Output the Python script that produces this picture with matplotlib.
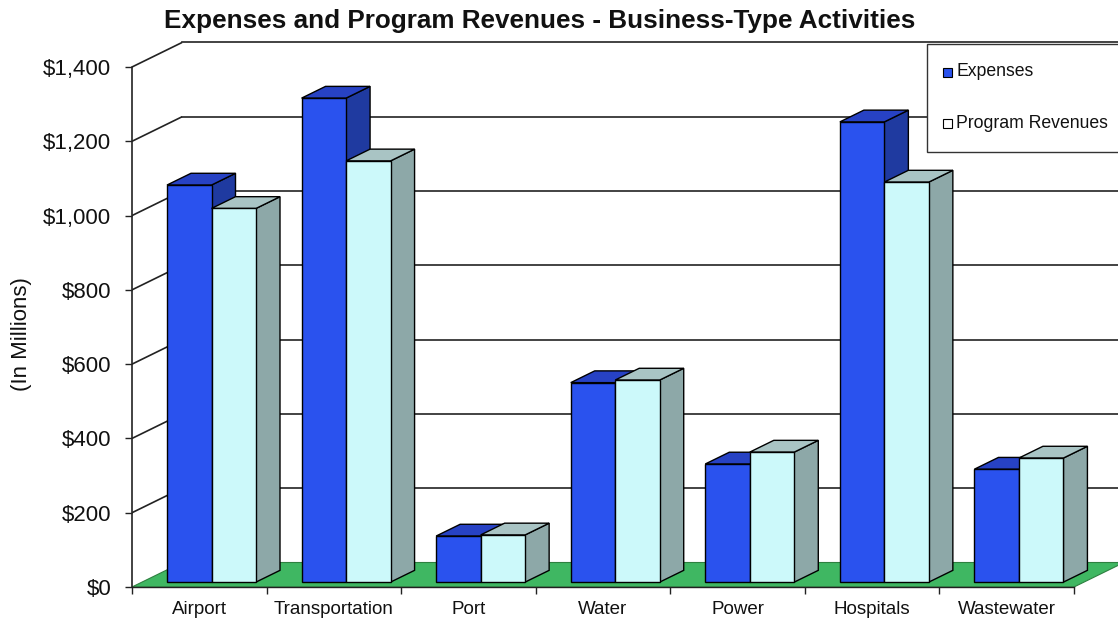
import numpy as np
import matplotlib
matplotlib.use('Agg')
import matplotlib.pyplot as plt
from matplotlib.patches import Polygon, Rectangle
from matplotlib.ticker import FuncFormatter

#================= data =================
categories = ['Airport', 'Transportation', 'Port', 'Water', 'Power', 'Hospitals', 'Wastewater']
expenses = [1069, 1303, 124, 537, 318, 1239, 304]
revenues = [1006, 1134, 127, 544, 350, 1077, 334]
series_names = ['Expenses', 'Program Revenues']
yticks = list(range(0, 1401, 200))

#================= style =================
plt.rcParams['font.family'] = ['Liberation Sans', 'DejaVu Sans']
W, H = 1118, 623
front_col = ['#2A52EE', '#CCF9FA']
top_col = ['#2742C4', '#A9C4C4']
side_col = ['#1F3AA0', '#8DA8A8']
floor_col = '#3FB762'
grid_col = '#222222'

fig = plt.figure(figsize=(W / 100, H / 100), dpi=100)
fig.patch.set_facecolor('white')

# axes: front plane x=0 at 132px, x=7 at 1074px ; y=0 at 587px, 1400 at 67px
x0_px, x7_px, y0_px, y1400_px = 132, 1074, 587, 67
cat_px = (x7_px - x0_px) / 7.0
val_px = (y0_px - y1400_px) / 1400.0
top_px = 40
ax = fig.add_axes([x0_px / W, 1 - y0_px / H, (W - x0_px) / W, (y0_px - top_px) / H])
ax.set_xlim(0, (W - x0_px) / cat_px)
ax.set_ylim(0, (y0_px - top_px) / val_px)

# depth of the box in data units
dx = 50 / cat_px
dy = 24.5 / val_px
d_front, d_back = 0.2, 0.68      # bar depth position
bar_off = 25 / cat_px            # front-plane offset of first bar in a category
bar_w = 44.5 / cat_px
xmax = ax.get_xlim()[1]

# floor
ax.add_patch(Polygon([(0, 0), (7, 0), (7 + dx, dy), (dx, dy)], closed=True,
                     facecolor=floor_col, edgecolor='#2E8040', lw=0.8, zorder=1))

# wall gridlines: diagonal on side wall, horizontal on back wall
for v in yticks:
    if v > 0:
        ax.plot([0, dx], [v, v + dy], color=grid_col, lw=1.2, zorder=2, solid_capstyle='butt')
        ax.plot([dx, xmax], [v + dy, v + dy], color=grid_col, lw=1.2, zorder=2)
ax.plot([0, 0], [0, 1400], color=grid_col, lw=1.2, zorder=2, clip_on=False)

# bars
def draw_bar(x_left, height, j):
    fx = x_left + d_front * dx
    fy = d_front * dy
    tdx = (d_back - d_front) * dx
    tdy = (d_back - d_front) * dy
    front = [(fx, fy), (fx + bar_w, fy), (fx + bar_w, fy + height), (fx, fy + height)]
    top = [(fx, fy + height), (fx + bar_w, fy + height),
           (fx + bar_w + tdx, fy + height + tdy), (fx + tdx, fy + height + tdy)]
    side = [(fx + bar_w, fy), (fx + bar_w + tdx, fy + tdy),
            (fx + bar_w + tdx, fy + height + tdy), (fx + bar_w, fy + height)]
    for pts, c in ((side, side_col[j]), (top, top_col[j]), (front, front_col[j])):
        ax.add_patch(Polygon(pts, closed=True, facecolor=c, edgecolor='black',
                             lw=1.0, joinstyle='miter', zorder=3))

for i in range(len(categories)):
    for j, vals in enumerate((expenses, revenues)):
        draw_bar(i + bar_off + j * bar_w, vals[i], j)

# axes styling
for s in ['top', 'right', 'left']:
    ax.spines[s].set_visible(False)
ax.spines['bottom'].set_bounds(0, 7)
ax.spines['bottom'].set_color(grid_col)
ax.spines['bottom'].set_linewidth(1.0)
ax.set_facecolor('none')

ax.set_yticks(yticks)
ax.yaxis.set_major_formatter(FuncFormatter(lambda v, p: '${:,.0f}'.format(v)))
ax.tick_params(axis='y', direction='out', length=5, width=1, color=grid_col,
               labelsize=16, pad=10, labelcolor='#111111')

ax.set_xticks(np.arange(0, 8))
ax.set_xticklabels([])
ax.set_xticks(np.arange(len(categories)) + 0.5, minor=True)
ax.set_xticklabels(categories, minor=True)
ax.tick_params(axis='x', which='major', direction='out', length=5, width=1, color=grid_col)
ax.tick_params(axis='x', which='minor', length=0, pad=10, labelsize=13.5, labelcolor='#111111')

# titles
fig.text(540 / W, 1 - 21 / H, 'Expenses and Program Revenues - Business-Type Activities',
         ha='center', va='center', fontsize=18.8, fontweight='bold', color='#111111')
fig.text(21 / W, 1 - 334 / H, '(In Millions)', rotation=90, ha='center', va='center',
         fontsize=16, color='#111111')

# legend box
fig.add_artist(Rectangle((927 / W, 1 - 152 / H), (W - 927 + 10) / W, 108 / H,
                         transform=fig.transFigure, facecolor='white',
                         edgecolor='#333333', lw=1.0, zorder=10, clip_on=False))
leg_y = [72, 123]
for j, name in enumerate(series_names):
    fig.add_artist(Rectangle((943 / W, 1 - (leg_y[j] + 4.5) / H), 9 / W, 9 / H,
                             transform=fig.transFigure, facecolor=front_col[j] if j == 0 else 'white',
                             edgecolor='black', lw=0.8, zorder=11))
    fig.text(956 / W, 1 - leg_y[j] / H, name, ha='left', va='center', fontsize=12.7,
             color='#111111', zorder=12)

fig.savefig('out.png', dpi=100)
